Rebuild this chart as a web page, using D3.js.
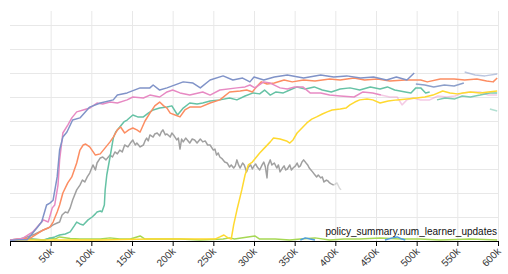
<!DOCTYPE html>
<html>
<head>
<meta charset="utf-8">
<script src="https://cdn.jsdelivr.net/npm/d3@7"></script>
<style>
  body { margin:0; background:#fff; }
  .grid line { stroke:#e8e8e8; stroke-width:1; }
  .grid path { display:none; }
  .axis-x path, .axis-x line { stroke:#000; }
  .axis-x text { font-family:"Liberation Sans", Arial, sans-serif; font-size:10px; fill:#333; }
  .run { fill:none; stroke-width:1.5; stroke-linejoin:round; }
</style>
</head>
<body>
<div id="canvas"></div>
<script>
// x in thousands of learner updates, y in grid units
var xTicks = [0,50,100,150,200,250,300,350,400,450,500,550,600];
var xTickLabels = ['','50k','100k','150k','200k','250k','300k','350k','400k','450k','500k','550k','600k'];
var yTicks = [1,2,3,4,5,6,7,8,9];
var xLabel = 'policy_summary.num_learner_updates';

var limeRun = [[0,0.04],[25,0.08],[43,0.04],[49,0.13],[55,0.08],[61,0.17],[74,0.1],[86,0.08],[111,0.08],[123,0.13],[135,0.08],[148,0.08],[160,0.21],[166,0.08],[184,0.08],[209,0.08],[234,0.04],[262,0.08],[270,0.13],[276,0.08],[301,0.21],[307,0.08],[326,0.08],[344,0.04],[357,0.08],[375,0.13],[393,0.04],[411,0.08],[430,0.08],[455,0.13],[480,0.08],[504,0.08],[529,0.04],[566,0.08],[599,0.04]];
var deepBlueA = [[357,0.04],[363,0.13],[369,0.08],[375,0.04]];
var deepBlueB = [[461,0.04],[470,0.13],[476,0.17],[482,0.08],[486,0.04]];

var yellowRun = [[0,0.04],[49,0.04],[111,0.04],[172,0.08],[234,0.08],[252,0.08],[258,0.17],[263,0.25],[268,0.13],[272,0.08],[275,0.67],[279,1.29],[285,2.13],[289,2.75],[293,3.17],[298,3.29],[302,3.46],[307,3.67],[313,3.88],[320,4.13],[324,4.29],[332,4.25],[340,4.17],[344,4.08],[348,4.21],[353,4.5],[359,4.71],[365,4.92],[371,5.08],[377,5.17],[384,5.29],[390,5.38],[396,5.46],[406,5.5],[413,5.54],[418,5.67],[424,5.79],[430,5.88],[439,5.92],[446,5.88],[455,5.75],[465,5.83],[476,5.88],[488,5.92],[500,5.96],[510,6.0],[520,6.08],[532,6.25],[541,6.17],[550,6.13],[557,6.17],[566,6.21],[578,6.17],[588,6.21],[599,6.25]];

var grayRun = [[0,0.04],[12,0.08],[21,0.17],[31,0.29],[41,0.46],[47,0.54],[53,0.67],[58,0.75],[61,0.79],[64,1.08],[68,1.21],[71,1.17],[74,1.38],[77,1.71],[82,2.13],[86,2.33],[89,2.54],[92,2.46],[95,2.67],[98,2.83],[102,3.17],[105,2.96],[107,3.25],[111,3.46],[114,3.5],[118,3.38],[123,3.58],[126,3.5],[129,3.71],[132,3.63],[135,3.79],[138,3.71],[141,4.0],[145,3.92],[148,4.08],[151,4.21],[154,4.0],[156,4.08],[160,3.92],[164,4.0],[166,4.17],[168,4.29],[170,4.17],[172,4.42],[176,4.33],[178,4.46],[181,4.5],[184,4.38],[186,4.54],[188,4.63],[191,4.42],[193,4.46],[197,4.33],[199,4.5],[201,4.42],[205,4.21],[207,4.29],[209,3.83],[211,4.25],[213,4.13],[216,4.29],[218,4.21],[221,4.08],[224,4.25],[227,4.21],[230,4.08],[234,4.25],[237,4.13],[240,4.17],[243,4.0],[246,4.0],[250,3.79],[252,3.83],[254,3.58],[256,3.67],[258,3.5],[261,3.42],[264,3.29],[267,3.25],[270,3.08],[272,3.17],[275,3.04],[277,3.13],[279,3.38],[281,3.17],[283,3.04],[286,3.25],[288,3.17],[291,2.88],[293,3.08],[296,3.17],[298,3.0],[300,3.13],[302,3.21],[304,3.08],[307,2.96],[310,3.17],[312,3.29],[314,3.08],[316,2.63],[317,3.13],[320,3.38],[322,3.17],[325,3.25],[328,3.04],[330,3.17],[332,2.88],[335,3.04],[337,3.13],[339,2.96],[341,3.0],[344,3.17],[346,2.96],[348,3.04],[351,3.13],[353,3.25],[355,3.08],[357,3.13],[359,3.29],[361,3.38],[364,3.25],[366,3.17],[368,3.04],[370,2.96],[372,2.88],[374,2.79],[377,2.67],[379,2.75],[382,2.63],[384,2.67],[386,2.46],[389,2.54],[391,2.5],[393,2.42],[395,2.38],[398,2.33]];
var grayTail = [[398,2.33],[402,2.42],[405,2.21],[407,2.13]];

var greenRun = [[0,0.04],[25,0.08],[41,0.04],[55,0.17],[61,0.25],[68,0.29],[74,0.38],[79,0.63],[82,0.79],[86,0.71],[90,0.67],[96,0.88],[101,1.0],[105,1.13],[107,1.21],[111,1.25],[113,1.21],[116,1.5],[117,2.13],[119,2.75],[123,3.5],[127,4.29],[130,4.54],[135,4.75],[140,4.96],[144,5.04],[151,5.25],[157,5.17],[164,5.17],[170,5.33],[176,5.46],[184,5.54],[193,5.58],[199,5.63],[206,5.25],[213,5.54],[221,5.75],[230,5.71],[237,5.75],[246,5.83],[258,5.88],[270,5.96],[279,5.88],[289,6.04],[299,6.17],[307,6.13],[313,6.29],[320,6.08],[327,6.21],[336,6.17],[344,6.29],[353,6.42],[363,6.33],[374,6.42],[384,6.29],[395,6.21],[406,6.33],[418,6.38],[430,6.29],[443,6.42],[455,6.33],[464,6.42],[473,6.29],[486,6.21],[493,6.17],[499,6.38],[505,6.38],[511,6.17],[516,6.21]];
var greenLate = [[525,5.88],[535,5.96],[547,5.92],[556,6.04],[566,6.0],[578,6.08],[590,6.17],[599,6.17]];
var greenFrag = [[590,5.5],[599,5.42]];

var orangeRun = [[0,0.04],[25,0.12],[41,0.46],[49,0.58],[53,0.79],[58,1.21],[61,1.5],[65,2.0],[71,2.42],[76,2.67],[82,3.25],[86,3.79],[90,4.0],[93,4.04],[98,3.92],[105,3.58],[111,3.63],[117,3.88],[123,4.13],[127,4.33],[132,4.63],[136,4.75],[141,4.5],[146,4.63],[151,4.71],[156,4.63],[160,4.54],[166,5.0],[172,5.33],[178,5.63],[184,5.79],[189,5.63],[193,5.54],[197,5.33],[203,5.25],[209,5.17],[215,5.46],[221,5.58],[234,5.58],[246,5.75],[258,5.88],[270,6.21],[283,6.25],[291,6.29],[298,6.21],[302,6.38],[309,6.63],[316,6.54],[325,6.58],[337,6.71],[347,6.63],[361,6.71],[375,6.67],[393,6.75],[406,6.71],[423,6.79],[436,6.71],[452,6.75],[467,6.67],[486,6.71],[505,6.71],[513,6.63],[529,6.75],[546,6.75],[559,6.71],[574,6.75],[586,6.67],[594,6.63],[599,6.79]];

var pinkRun = [[0,0.04],[15,0.1],[28,0.38],[41,0.88],[47,0.79],[52,1.38],[55,1.5],[59,2.33],[61,3.38],[65,4.5],[71,4.83],[76,5.13],[82,5.38],[90,5.46],[98,5.54],[107,5.75],[114,5.71],[123,5.79],[132,5.75],[144,5.88],[151,6.0],[164,5.96],[172,6.08],[184,6.0],[193,6.21],[200,6.29],[209,6.17],[221,6.08],[237,6.21],[246,6.08],[258,6.29],[279,6.38],[289,6.42],[295,6.5],[301,6.38],[312,6.63],[320,6.58],[332,6.38],[341,6.33],[350,6.42],[360,6.42],[369,6.17],[382,6.17],[393,6.08],[406,6.04],[423,6.0],[434,6.21],[446,6.17],[456,6.08]];
var pinkLate = [[456,6.08],[467,6.0],[476,6.0],[482,5.67],[488,5.88],[496,5.96],[504,5.88],[516,5.88],[526,6.04],[537,6.0],[547,6.04],[557,6.17],[566,6.21],[578,6.21],[588,6.08],[599,6.08]];

var blueRun = [[0,0.02],[10,0.05],[21,0.05],[33,0.54],[39,0.8],[45,1.5],[49,1.58],[53,1.7],[58,2.67],[61,3.79],[65,4.33],[70,4.54],[77,5.04],[86,5.13],[98,5.58],[111,5.75],[127,5.88],[132,6.08],[144,6.17],[160,6.38],[172,6.38],[176,6.5],[184,6.29],[193,6.38],[213,6.63],[225,6.58],[234,6.38],[246,6.71],[262,6.88],[274,6.71],[286,6.79],[295,6.63],[300,6.83],[312,6.71],[325,6.83],[341,6.92],[361,6.79],[382,6.92],[398,6.83],[414,6.88],[431,6.79],[447,6.83],[463,6.71],[475,6.83],[488,6.71],[497,7.0]];
var blueLate = [[499,6.54],[510,6.5],[521,6.42],[534,6.5],[546,6.46],[558,6.58]];
var blueLight = [[559,7.04],[572,6.92],[584,6.88],[599,6.96]];

var runs = [
  {data:limeRun, color:'#a6d854', op:1},
  {data:deepBlueA, color:'#4c9be0', op:1},
  {data:deepBlueB, color:'#4c9be0', op:1},
  {data:grayTail, color:'#a0a0a0', op:0.4},
  {data:grayRun, color:'#a0a0a0', op:1},
  {data:pinkLate, color:'#e78ac3', op:0.45},
  {data:blueLight, color:'#8da0cb', op:0.6},
  {data:greenFrag, color:'#66c2a5', op:0.5},
  {data:greenLate, color:'#66c2a5', op:0.85},
  {data:greenRun, color:'#66c2a5', op:1},
  {data:yellowRun, color:'#ffd92f', op:1},
  {data:orangeRun, color:'#fc8d62', op:1},
  {data:pinkRun, color:'#e78ac3', op:1},
  {data:blueLate, color:'#8da0cb', op:1},
  {data:blueRun, color:'#8093c8', op:1}
];

var W = 508, H = 274;
var svg = d3.select('#canvas').append('svg')
    .attr('width',W).attr('height',H);

var scaleX = d3.scaleLinear().domain([0,600]).range([10,498]);
var scaleY = d3.scaleLinear().domain([0,230/24]).range([241,11]);

// gridlines
svg.append('g').attr('class','grid')
    .attr('transform','translate(0,241)')
    .call(d3.axisBottom(scaleX).tickValues(xTicks.slice(1)).tickSize(-230).tickFormat(''));
svg.append('g').attr('class','grid')
    .attr('transform','translate(10,0)')
    .call(d3.axisLeft(scaleY).tickValues(yTicks).tickSize(-488).tickFormat(''));

var line = d3.line()
    .x(function(d){return scaleX(d[0]);})
    .y(function(d){return scaleY(d[1]);});

svg.selectAll('.run').data(runs).enter()
    .append('path')
    .attr('class','run')
    .attr('d',function(d){return line(d.data);})
    .style('stroke',function(d){return d.color;})
    .style('stroke-opacity',function(d){return d.op;});

// x axis
var axisX = svg.append('g').attr('class','axis-x')
    .attr('transform','translate(0,241)')
    .call(d3.axisBottom(scaleX).tickValues(xTicks).tickSize(5)
        .tickFormat(function(d,i){return xTickLabels[i];}));
axisX.select('.domain').attr('d','M10,0.5H498');
axisX.selectAll('text')
    .style('text-anchor','end')
    .attr('x',0).attr('y',0).attr('dy',0)
    .attr('transform','translate(3,11) rotate(-45)');

svg.append('text')
    .attr('x',497).attr('y',235)
    .attr('text-anchor','end')
    .style('font-family','"Liberation Sans", Arial, sans-serif')
    .style('font-size','10px')
    .style('fill','#111')
    .text(xLabel);
</script>
</body>
</html>
